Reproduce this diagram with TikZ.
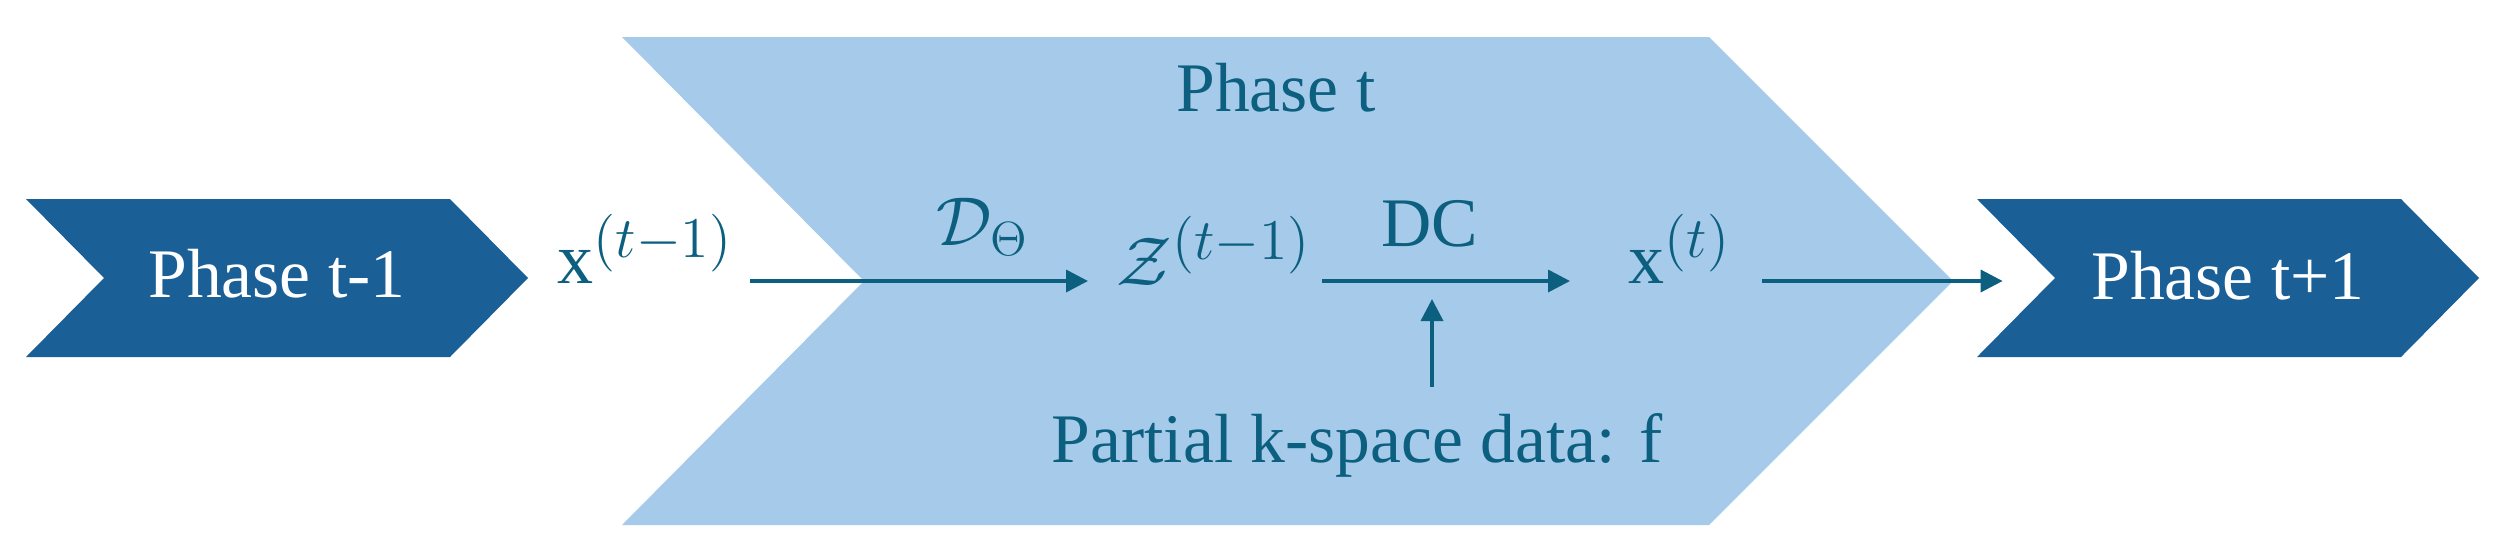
\documentclass[tikz,border=0pt]{standalone}
\usepackage{fontspec}
\setmainfont{Liberation Serif}
\usetikzlibrary{arrows.meta}
\DeclareMathSizes{18}{18}{14.5}{11.5}
\definecolor{darkchev}{HTML}{1B5F97}
\definecolor{lightchev}{HTML}{A6CBEA}
\definecolor{ink}{HTML}{0C5F7E}
\tikzset{
  darkshape/.style={fill=darkchev, draw=none},
  lightshape/.style={fill=lightchev, draw=none},
  phaselabel/.style={inner sep=0pt, anchor=base, font=\fontsize{17.4}{20}\selectfont},
  mathlabel/.style={inner sep=0pt, anchor=base west, text=ink, font=\fontsize{18}{22}\selectfont},
  arr/.style={draw=ink, line width=0.9pt, -{Triangle[length=5.5pt, width=5.5pt]}},
}
\begin{document}
\begin{tikzpicture}[x=0.25pt, y=-0.25pt]
\useasboundingbox (0,0) rectangle (2505,558);
% chevrons
\path[lightshape] (622,37) -- (1709,37) -- (1953,281) -- (1709,525) -- (622,525) -- (864,281) -- cycle;
\path[darkshape] (26,199) -- (450,199) -- (528,278) -- (450,357) -- (26,357) -- (104,278) -- cycle;
\path[darkshape] (1977,199) -- (2401,199) -- (2479,278) -- (2401,357) -- (1977,357) -- (2055,278) -- cycle;
% labels
\node[phaselabel, text=white] (pprev) at (277,297.7) {Phase t-1};
\node[phaselabel, text=white] (pnext) at (2228,299) {Phase t+1};
\node[phaselabel, text=ink] (pcur) at (1276,111.4) {Phase t};
\node[phaselabel, text=ink] (dc) at (1430,246.6) {DC};
\node[phaselabel, text=ink] (kdata) at (1357,462.6) {Partial k-space data: f};
\node[mathlabel] (xprev) at (557,283) {$\mathrm{x}^{(t-1)}$};
\node[mathlabel] (dtheta) at (936,245.5) {$\mathcal{D}_{\scriptscriptstyle\Theta}$};
\node[mathlabel] (zprev) at (1116,285) {$\mathcal{Z}^{(t-1)}$};
\node[mathlabel] (xcur) at (1628,283) {$\mathrm{x}^{(t)}$};
% connectors
\coordinate (axis) at (0,281);
\coordinate (vfoot) at (1432,386.5);
\draw[arr] (xprev.east |- axis) ++(16,0) -- ([xshift=-7pt]zprev.west |- axis);
\draw[arr] (zprev.east |- axis) ++(10,0) -- ([xshift=-14.5pt]xcur.west |- axis);
\draw[arr] (xcur.east |- axis) ++(30,0) -- ([xshift=-22pt]pnext.west |- axis);
\draw[arr] (vfoot) -- ++(0,-87.5);
\end{tikzpicture}
\end{document}
